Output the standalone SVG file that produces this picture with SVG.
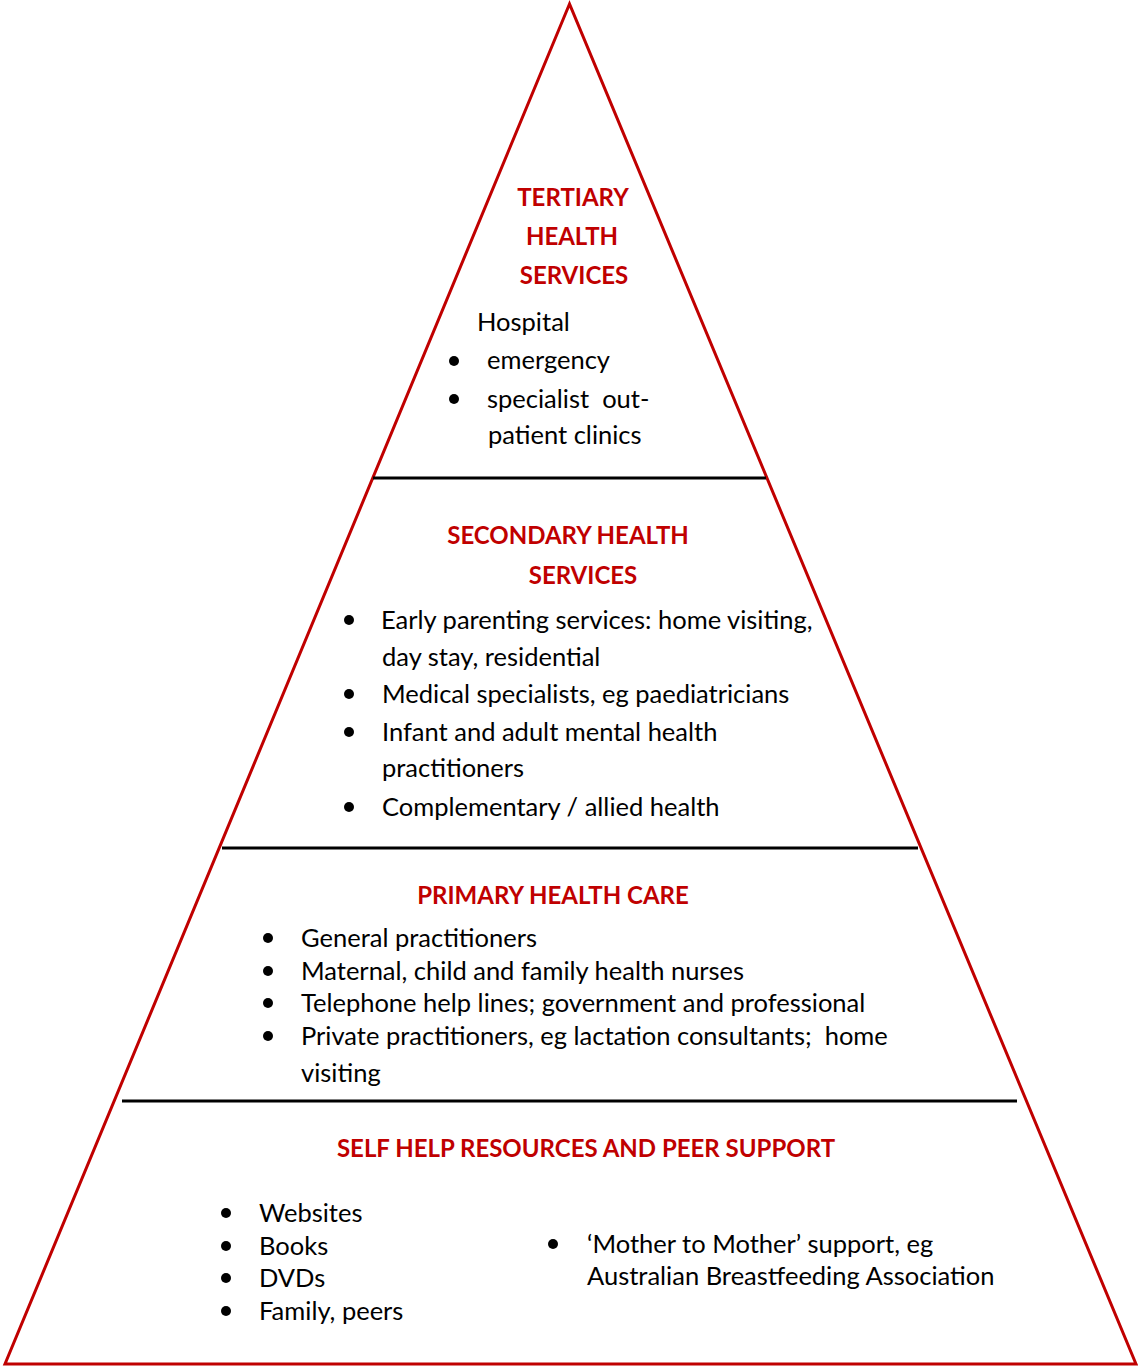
<svg xmlns="http://www.w3.org/2000/svg" width="1138" height="1369" viewBox="0 0 1138 1369">
<style>
.edge{fill:none;stroke:#C00000;stroke-width:3;stroke-linejoin:miter}
.div{stroke:#000;stroke-width:3}
.h{font-family:Lato,"Liberation Sans",sans-serif;font-weight:bold;font-size:24px;fill:#C00000;text-anchor:middle}
.t{font-family:Lato,"Liberation Sans",sans-serif;font-size:25.5px;fill:#000}
.b{fill:#000}
</style>
<rect width="1138" height="1369" fill="#fff"/>
<g id="pyramid">
<polygon class="edge" points="569.5,4 5,1364 1136,1364"/>
</g>
<g id="connectors">
<line class="div" x1="373" y1="478" x2="766" y2="478"/>
<line class="div" x1="222" y1="848" x2="918" y2="848"/>
<line class="div" x1="122" y1="1101" x2="1017" y2="1101"/>
</g>
<g id="tertiary">
<text class="h" x="573" y="206">TERTIARY</text>
<text class="h" x="572" y="245">HEALTH</text>
<text class="h" x="574" y="284">SERVICES</text>
<text class="t" x="477" y="331">Hospital</text>
<circle class="b" cx="454" cy="361" r="5"/>
<text class="t" x="487" y="369">emergency</text>
<circle class="b" cx="454" cy="399" r="5"/>
<text class="t" x="487" y="408" xml:space="preserve">specialist  out-</text>
<text class="t" x="488" y="444">patient clinics</text>
</g>
<g id="secondary">
<text class="h" x="568" y="544">SECONDARY HEALTH</text>
<text class="h" x="583" y="584">SERVICES</text>
<circle class="b" cx="349" cy="620" r="5"/>
<text class="t" x="381" y="629">Early parenting services: home visiting,</text>
<text class="t" x="382" y="666">day stay, residential</text>
<circle class="b" cx="349" cy="694" r="5"/>
<text class="t" x="382" y="703">Medical specialists, eg paediatricians</text>
<circle class="b" cx="349" cy="732" r="5"/>
<text class="t" x="382" y="741">Infant and adult mental health</text>
<text class="t" x="382" y="777">practitioners</text>
<circle class="b" cx="349" cy="807" r="5"/>
<text class="t" x="382" y="816">Complementary / allied health</text>
</g>
<g id="primary">
<text class="h" x="553" y="904">PRIMARY HEALTH CARE</text>
<circle class="b" cx="268" cy="938" r="5"/>
<text class="t" x="301" y="947">General practitioners</text>
<circle class="b" cx="268" cy="971" r="5"/>
<text class="t" x="301" y="980">Maternal, child and family health nurses</text>
<circle class="b" cx="268" cy="1003" r="5"/>
<text class="t" x="301" y="1012">Telephone help lines; government and professional</text>
<circle class="b" cx="268" cy="1036" r="5"/>
<text class="t" x="301" y="1045" xml:space="preserve">Private practitioners, eg lactation consultants;  home</text>
<text class="t" x="301" y="1082">visiting</text>
</g>
<g id="selfhelp">
<text class="h" x="586" y="1157">SELF HELP RESOURCES AND PEER SUPPORT</text>
<circle class="b" cx="226" cy="1213" r="5"/>
<text class="t" x="259" y="1222">Websites</text>
<circle class="b" cx="226" cy="1246" r="5"/>
<text class="t" x="259" y="1255">Books</text>
<circle class="b" cx="226" cy="1278" r="5"/>
<text class="t" x="259" y="1287">DVDs</text>
<circle class="b" cx="226" cy="1311" r="5"/>
<text class="t" x="259" y="1320">Family, peers</text>
<circle class="b" cx="553" cy="1244" r="5"/>
<text class="t" x="587" y="1253">‘Mother to Mother’ support, eg</text>
<text class="t" x="587" y="1285">Australian Breastfeeding Association</text>
</g>
</svg>
